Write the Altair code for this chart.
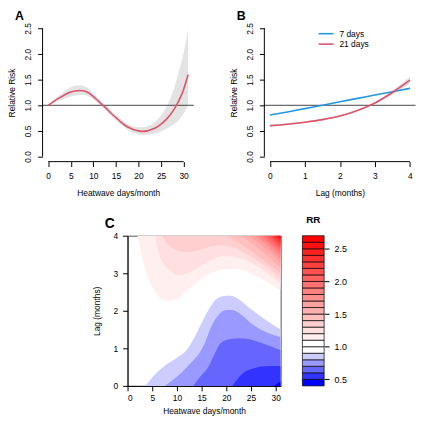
import altair as alt
import pandas as pd

FONT = "Liberation Sans"

# ---------------- Panel A: overall cumulative relative risk ----------------
A_X = list(range(32))
A_RR = [1.00, 1.06, 1.12, 1.17, 1.22, 1.26, 1.28, 1.29, 1.28, 1.24, 1.17, 1.09, 1.01, 0.93, 0.84, 0.76,
        0.68, 0.61, 0.56, 0.52, 0.50, 0.49, 0.50, 0.53, 0.57, 0.63, 0.71, 0.81, 0.94, 1.10, 1.31, 1.60]
A_LO = [1.00, 1.04, 1.08, 1.11, 1.14, 1.17, 1.19, 1.20, 1.20, 1.17, 1.12, 1.04, 0.96, 0.88, 0.79, 0.71,
        0.63, 0.56, 0.50, 0.46, 0.43, 0.42, 0.42, 0.44, 0.46, 0.49, 0.53, 0.58, 0.64, 0.72, 0.84, 1.00]
A_HI = [1.00, 1.08, 1.16, 1.23, 1.30, 1.35, 1.38, 1.39, 1.37, 1.32, 1.23, 1.14, 1.06, 0.98, 0.89, 0.81,
        0.74, 0.67, 0.62, 0.58, 0.57, 0.57, 0.59, 0.63, 0.70, 0.80, 0.94, 1.12, 1.36, 1.68, 2.02, 2.50]
A_XTICKS = [0, 5, 10, 15, 20, 25, 30]
A_XDOM = [-1.24, 32.24]
RR_TICKS = [0.0, 0.5, 1.0, 1.5, 2.0, 2.5]
RR_DOM = [-0.1, 2.6]
REF_RR = [1.0]

# ---------------- Panel B: lag-response for 7 and 21 days ----------------
B_LAG = [0, 0.5, 1, 1.5, 2, 2.5, 3, 3.5, 4]
B_RR7 = [0.81, 0.87, 0.935, 1.0, 1.07, 1.135, 1.2, 1.265, 1.33]
B_RR21 = [0.60, 0.63, 0.67, 0.72, 0.79, 0.90, 1.045, 1.25, 1.49]
B_LO21 = [0.575, 0.61, 0.655, 0.705, 0.775, 0.885, 1.025, 1.215, 1.43]
B_HI21 = [0.625, 0.65, 0.685, 0.735, 0.805, 0.915, 1.065, 1.285, 1.55]
B_XTICKS = [0, 1, 2, 3, 4]
B_XDOM = [-0.16, 4.16]
B_SERIES = ["7 days", "21 days"]
B_COLORS = ["#2297E6", "#DF536B"]

# ---------------- Panel C: contour boundaries (heatwave days x lag) ----------------
C_050_X = [29.5, 30.3, 31.0]
C_050_LAG = [0.0, 0.06, 0.12]
C_060_X = [21.2, 22.2, 23.6, 25.6, 27.9, 31.0]
C_060_LAG = [0.0, 0.17, 0.36, 0.47, 0.52, 0.53]
C_070_X = [13.3, 14.6, 16.3, 17.6, 18.9, 20.6, 22.6, 24.6, 27.2, 31.0]
C_070_LAG = [0.0, 0.23, 0.49, 0.84, 1.14, 1.24, 1.27, 1.24, 1.14, 0.95]
C_080_X = [7.6, 9.3, 11.0, 12.6, 14.6, 15.9, 16.9, 18.3, 20.0, 21.2, 22.9, 25.2, 27.9, 31.0]
C_080_LAG = [0.0, 0.17, 0.36, 0.58, 0.88, 1.22, 1.57, 1.87, 2.02, 2.02, 1.91, 1.65, 1.44, 1.30]
C_090_X = [3.65, 4.65, 6.0, 8.0, 10.0, 12.0, 13.6, 14.9, 16.3, 17.6, 19.25, 20.9, 22.6, 24.6, 27.2, 29.2, 31.0]
C_090_LAG = [0.0, 0.17, 0.36, 0.58, 0.75, 0.96, 1.31, 1.65, 2.0, 2.26, 2.39, 2.40, 2.30, 2.08, 1.83, 1.65, 1.50]

C_110_X = [2.0, 2.66, 3.3, 4.65, 6.0, 8.0, 10.0, 12.6, 16.0, 19.3, 21.9, 24.6, 27.2, 29.0, 31.0]
C_110_LAG = [4.0, 3.59, 3.25, 2.73, 2.43, 2.26, 2.30, 2.60, 2.95, 3.10, 3.12, 3.02, 2.85, 2.70, 2.55]
C_120_X = [5.6, 6.64, 8.63, 10.3, 12.6, 16.0, 19.3, 21.9, 24.6, 27.9, 31.0]
C_120_LAG = [4.0, 3.42, 3.07, 2.95, 3.03, 3.29, 3.46, 3.43, 3.30, 3.05, 2.72]
C_130_X = [7.0, 8.0, 10.0, 12.0, 14.0, 16.0, 18.0, 20.0, 22.0, 24.0, 26.0, 28.0, 30.0, 31.0]
C_130_LAG = [4.0, 3.80, 3.62, 3.56, 3.60, 3.68, 3.74, 3.74, 3.66, 3.52, 3.36, 3.18, 2.98, 2.88]
C_140_X = [20.0, 22.0, 24.0, 26.0, 28.0, 30.0, 31.0]
C_140_LAG = [4.0, 3.85, 3.68, 3.50, 3.30, 3.10, 3.00]
C_150_X = [23.0, 25.0, 27.0, 29.0, 31.0]
C_150_LAG = [4.0, 3.82, 3.60, 3.38, 3.13]
C_160_X = [24.5, 26.0, 28.0, 30.0, 31.0]
C_160_LAG = [4.0, 3.87, 3.65, 3.42, 3.26]
C_170_X = [25.7, 27.0, 29.0, 31.0]
C_170_LAG = [4.0, 3.88, 3.65, 3.37]
C_180_X = [26.5, 28.0, 30.0, 31.0]
C_180_LAG = [4.0, 3.85, 3.62, 3.47]
C_190_X = [27.3, 29.0, 31.0]
C_190_LAG = [4.0, 3.80, 3.56]
C_200_X = [28.0, 29.5, 31.0]
C_200_LAG = [4.0, 3.82, 3.63]
C_210_X = [28.6, 30.0, 31.0]
C_210_LAG = [4.0, 3.83, 3.70]
C_220_X = [29.1, 30.0, 31.0]
C_220_LAG = [4.0, 3.89, 3.76]
C_230_X = [29.6, 30.3, 31.0]
C_230_LAG = [4.0, 3.91, 3.82]
C_240_X = [30.0, 30.5, 31.0]
C_240_LAG = [4.0, 3.94, 3.87]
C_250_X = [30.4, 31.0]
C_250_LAG = [4.0, 3.92]
C_260_X = [30.75, 31.0]
C_260_LAG = [4.0, 3.96]

C_XTICKS = [0, 5, 10, 15, 20, 25, 30]
C_YTICKS = [0, 1, 2, 3, 4]

# Legend (RR colour key)
LEG_BREAKS = [0.4, 0.5, 0.6, 0.7, 0.8, 0.9, 1.0, 1.1, 1.2, 1.3, 1.4, 1.5, 1.6, 1.7, 1.8, 1.9,
              2.0, 2.1, 2.2, 2.3, 2.4, 2.5, 2.6, 2.7]
LEG_COLORS = ["#0000FF", "#3333FF", "#6666FF", "#9999FF", "#CCCCFF", "#FFFFFF",
              "#FFFFFF", "#FFEFEF", "#FFDFDF", "#FFCFCF", "#FFBFBF", "#FFAFAF", "#FF9F9F",
              "#FF8F8F", "#FF8080", "#FF7070", "#FF6060", "#FF5050", "#FF4040", "#FF3030",
              "#FF2020", "#FF1010", "#FF0000"]
LEG_TICKS = [0.5, 1.0, 1.5, 2.0, 2.5]

# drawing order: (key, x, lag, base, colour)
CONTOURS = [
    ("b090", C_090_X, C_090_LAG, 0.0, "#CCCCFF"),
    ("b080", C_080_X, C_080_LAG, 0.0, "#9999FF"),
    ("b070", C_070_X, C_070_LAG, 0.0, "#6666FF"),
    ("b060", C_060_X, C_060_LAG, 0.0, "#3333FF"),
    ("b050", C_050_X, C_050_LAG, 0.0, "#0000FF"),
    ("r110", C_110_X, C_110_LAG, 4.0, "#FFEFEF"),
    ("r120", C_120_X, C_120_LAG, 4.0, "#FFDFDF"),
    ("r130", C_130_X, C_130_LAG, 4.0, "#FFCFCF"),
    ("r140", C_140_X, C_140_LAG, 4.0, "#FFBFBF"),
    ("r150", C_150_X, C_150_LAG, 4.0, "#FFAFAF"),
    ("r160", C_160_X, C_160_LAG, 4.0, "#FF9F9F"),
    ("r170", C_170_X, C_170_LAG, 4.0, "#FF8F8F"),
    ("r180", C_180_X, C_180_LAG, 4.0, "#FF8080"),
    ("r190", C_190_X, C_190_LAG, 4.0, "#FF7070"),
    ("r200", C_200_X, C_200_LAG, 4.0, "#FF6060"),
    ("r210", C_210_X, C_210_LAG, 4.0, "#FF5050"),
    ("r220", C_220_X, C_220_LAG, 4.0, "#FF4040"),
    ("r230", C_230_X, C_230_LAG, 4.0, "#FF3030"),
    ("r240", C_240_X, C_240_LAG, 4.0, "#FF2020"),
    ("r250", C_250_X, C_250_LAG, 4.0, "#FF1010"),
    ("r260", C_260_X, C_260_LAG, 4.0, "#FF0000"),
]

# ---------------- sizes ----------------
A_W, A_H = 153, 140
B_W = 153
GAP_AB = 71.5
C_W, C_H = 155, 152
LEG_W = 22
SP_C = 64
GAP_C = 22
ROW_GAP = 18


def panel_label(text, dx, dy, size, align="left"):
    return alt.Chart(pd.DataFrame({"t": [text]})).mark_text(
        align=align, baseline="alphabetic", fontSize=size, fontWeight="bold", font=FONT, color="#000"
    ).encode(x=alt.value(dx), y=alt.value(dy), text="t:N")


def rr_y(field):
    return alt.Y(f"{field}:Q", scale=alt.Scale(domain=RR_DOM, nice=False, zero=False),
                 axis=alt.Axis(values=RR_TICKS, format=".1f", labelAngle=270, labelAlign="center",
                               labelBaseline="bottom", title="Relative Risk", domain=False,
                               tickSize=5, labelPadding=5, titlePadding=7))


# ---------------- Panel A ----------------
dfA = pd.DataFrame({"x": A_X, "rr": A_RR, "lo": A_LO, "hi": A_HI})
xA = alt.X("x:Q", scale=alt.Scale(domain=A_XDOM, nice=False, zero=False),
           axis=alt.Axis(values=A_XTICKS, title="Heatwave days/month", domain=False,
                         tickSize=5, labelPadding=5, titlePadding=9))
axA_x = pd.DataFrame({"x": [A_XTICKS[0]], "x2": [A_XTICKS[-1]], "rr": [RR_DOM[0]]})
axA_y = pd.DataFrame({"x": [A_XDOM[0]], "rr": [RR_TICKS[0]], "rr2": [RR_TICKS[-1]]})

A = alt.layer(
    alt.Chart(dfA).mark_area(color="#E3E3E3", interpolate="monotone").encode(x=xA, y=rr_y("lo"), y2="hi"),
    alt.Chart(pd.DataFrame({"rr": REF_RR})).mark_rule(color="#444", strokeWidth=1).encode(y=rr_y("rr")),
    alt.Chart(dfA).mark_line(color="#DF536B", strokeWidth=1.6, interpolate="monotone").encode(x=xA, y=rr_y("rr")),
    alt.Chart(axA_x).mark_rule(color="#000", strokeWidth=1).encode(x=xA, x2="x2", y=rr_y("rr")),
    alt.Chart(axA_y).mark_rule(color="#000", strokeWidth=1).encode(x=xA, y=rr_y("rr"), y2="rr2"),
    panel_label("A", -28, -3, 12.5),
).properties(width=A_W, height=A_H)

# ---------------- Panel B ----------------
dfB = pd.DataFrame({
    "lag": B_LAG * 2,
    "rr": B_RR7 + B_RR21,
    "series": [B_SERIES[0]] * len(B_LAG) + [B_SERIES[1]] * len(B_LAG),
})
dfB_band = pd.DataFrame({"lag": B_LAG, "lo": B_LO21, "hi": B_HI21})
xB = alt.X("lag:Q", scale=alt.Scale(domain=B_XDOM, nice=False, zero=False),
           axis=alt.Axis(values=B_XTICKS, title="Lag (months)", domain=False, format="d",
                         tickSize=5, labelPadding=5, titlePadding=9))
axB_x = pd.DataFrame({"lag": [B_XTICKS[0]], "lag2": [B_XTICKS[-1]], "rr": [RR_DOM[0]]})
axB_y = pd.DataFrame({"lag": [B_XDOM[0]], "rr": [RR_TICKS[0]], "rr2": [RR_TICKS[-1]]})

# hand-drawn key inside panel B (position in pixels within the panel)
b_key = []
for i, (name, col) in enumerate(zip(B_SERIES, B_COLORS)):
    ky = 10.5 + 10.6 * i
    b_key.append(alt.Chart(pd.DataFrame({"t": [name]})).mark_rule(color=col, strokeWidth=1.6).encode(
        x=alt.value(55), x2=alt.value(70), y=alt.value(ky)))
    b_key.append(alt.Chart(pd.DataFrame({"t": [name]})).mark_text(
        align="left", baseline="middle", fontSize=8.5, font=FONT, color="#000").encode(
        x=alt.value(76), y=alt.value(ky), text="t:N"))

B = alt.layer(
    alt.Chart(dfB_band).mark_area(color="#DDDDDD", interpolate="monotone").encode(x=xB, y=rr_y("lo"), y2="hi"),
    alt.Chart(pd.DataFrame({"rr": REF_RR})).mark_rule(color="#444", strokeWidth=1).encode(y=rr_y("rr")),
    alt.Chart(dfB).mark_line(strokeWidth=1.6, interpolate="monotone").encode(
        x=xB, y=rr_y("rr"),
        color=alt.Color("series:N", scale=alt.Scale(domain=B_SERIES, range=B_COLORS), legend=None),
        detail="series:N"),
    alt.Chart(axB_x).mark_rule(color="#000", strokeWidth=1).encode(x=xB, x2="lag2", y=rr_y("rr")),
    alt.Chart(axB_y).mark_rule(color="#000", strokeWidth=1).encode(x=xB, y=rr_y("rr"), y2="rr2"),
    *b_key,
    panel_label("B", -28, -3, 12.5),
).properties(width=B_W, height=A_H)

# ---------------- Panel C ----------------
rows = []
for key, xs, lags, base, _ in CONTOURS:
    for xv, lv in zip(xs, lags):
        rows.append({"key": key, "x": xv, "lag": lv, "base": base})
dfC = pd.DataFrame(rows)

xC = alt.X("x:Q", scale=alt.Scale(domain=[0, 31], nice=False, zero=False),
           axis=alt.Axis(values=C_XTICKS, title="Heatwave days/month", tickSize=5,
                         labelPadding=3, titlePadding=4, format="d"))
yC = alt.Y("lag:Q", scale=alt.Scale(domain=[0, 4], nice=False, zero=False),
           axis=alt.Axis(values=C_YTICKS, title="Lag (months)", labelAngle=0, tickSize=5,
                         labelPadding=5, titlePadding=12, format="d"))

c_layers = []
for key, _, _, _, col in CONTOURS:
    c_layers.append(
        alt.Chart(dfC).transform_filter(alt.datum.key == key)
        .mark_area(color=col, interpolate="monotone", clip=True)
        .encode(x=xC, y=yC, y2="base")
    )
c_layers.append(panel_label("C", -23, -7.5, 14))
C = alt.layer(*c_layers).properties(
    width=C_W, height=C_H,
    view=alt.ViewBackground(stroke="#555", strokeWidth=1),
)

# ---------------- RR key ----------------
dfL = pd.DataFrame({"lo": LEG_BREAKS[:-1], "hi": LEG_BREAKS[1:], "col": LEG_COLORS,
                    "x0": [0] * len(LEG_COLORS), "x1": [1] * len(LEG_COLORS)})
LEG = alt.layer(
    alt.Chart(dfL).mark_rect(stroke="#000", strokeWidth=0.7).encode(
        x=alt.X("x0:Q", scale=alt.Scale(domain=[0, 1], nice=False, zero=False), axis=None),
        x2="x1",
        y=alt.Y("lo:Q", scale=alt.Scale(domain=[LEG_BREAKS[0], LEG_BREAKS[-1]], nice=False, zero=False),
                axis=alt.Axis(orient="right", values=LEG_TICKS, format=".1f", title=None, domain=False,
                              tickSize=5, labelPadding=5, labelFontSize=9)),
        y2="hi",
        color=alt.Color("col:N", scale=None),
    ),
    panel_label("RR", LEG_W / 2, -13, 10, align="center"),
).properties(width=LEG_W, height=C_H)


def spacer(w, h):
    return alt.Chart(pd.DataFrame({"s": [0]})).mark_point(opacity=0, size=1).encode(
        x=alt.X("s:Q", axis=None, scale=alt.Scale(domain=[0, 1])),
        y=alt.Y("s:Q", axis=None, scale=alt.Scale(domain=[0, 1]))).properties(width=w, height=h)


top = alt.hconcat(A, B, spacing=GAP_AB, bounds="flush")
bottom = alt.hconcat(spacer(SP_C, 1), C, LEG, spacing=GAP_C, bounds="flush")

chart = alt.vconcat(top, bottom, spacing=ROW_GAP).properties(
    padding=0, background="white").configure_view(stroke=None).configure_axis(
    labelFont=FONT, titleFont=FONT, labelFontSize=8.5, titleFontSize=8.5, titleFontWeight="normal",
    labelColor="#000", titleColor="#000", tickColor="#000", domainColor="#000", grid=False,
    tickWidth=1, domainWidth=1,
).configure_title(font=FONT, color="#000")

chart.save("out.html", embed_options={"renderer": "svg", "actions": False})
